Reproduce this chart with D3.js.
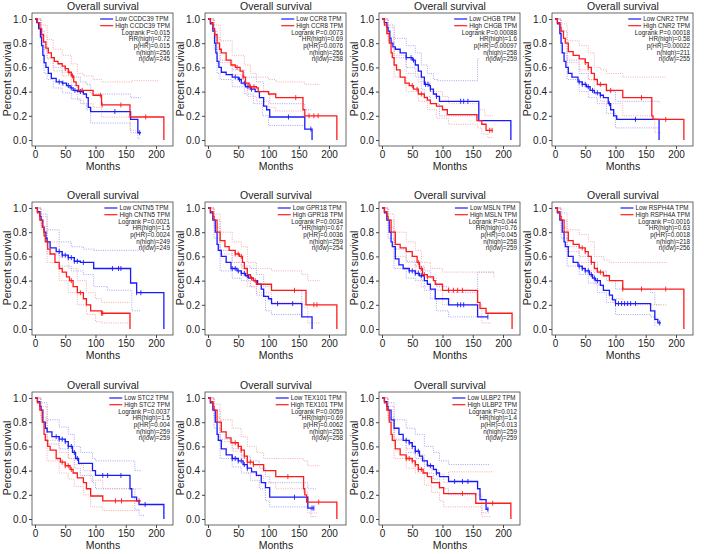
<!DOCTYPE html>
<html><head><meta charset="utf-8">
<script src="https://cdn.jsdelivr.net/npm/d3@7"></script>
<style>body{margin:0;background:#fff}svg{display:block}text{font-family:"Liberation Sans",Arial,sans-serif;fill:#222}</style>
</head><body><svg id="c" width="708" height="554"></svg>
<script>
// ---------- labels ----------
const genes = ["CCDC39","CCR8","CHGB","CNR2","CNTN5","GPR18","MSLN","RSPH4A","STC2","TEX101","ULBP2"];
const logrankP = ["0.015","0.0073","0.00088","0.00018","0.0021","0.0034","0.044","0.0016","0.0037","0.0059","0.012"];
const hrHigh = ["0.72","0.69","1.6","0.58","1.5","0.67","0.76","0.63","1.5","0.69","1.4"];
const pHR = ["0.015","0.0076","0.00097","0.00022","0.0024","0.0036","0.045","0.0018","0.004","0.0062","0.013"];
const nHigh = [256,256,258,211,249,259,258,218,259,255,259];
const nLow = [245,258,259,255,249,254,259,256,259,258,259];
const xTicks = [0,50,100,150,200];
const yTicks = [0,0.2,0.4,0.6,0.8,1.0];

// ---------- survival curves: [month, survival] steps ----------
const ccdc39Low=[[0,1],[3,.97],[6,.92],[9,.85],[11,.78],[13,.7],[15,.64],[18,.6],[22,.55],[27,.51],[35,.48],[45,.47],[52,.45],[58,.43],[63,.41],[70,.4],[80,.38],[85,.35],[88,.27],[92,.235],[158,.17],[170,.06],[175,.06]];
const ccdc39High=[[0,1],[4,.97],[8,.92],[11,.87],[14,.81],[18,.76],[22,.72],[27,.68],[32,.65],[38,.63],[45,.61],[50,.59],[55,.56],[60,.53],[64,.48],[68,.45],[72,.41],[96,.37],[110,.29],[157,.19],[213,0]];
const ccdc39LowUp=[[0,1],[10,.9],[15,.75],[20,.68],[30,.6],[45,.56],[60,.52],[75,.48],[85,.46],[92,.38],[158,.35],[175,.35]];
const ccdc39LowLo=[[0,1],[10,.78],[15,.55],[20,.5],[30,.43],[45,.39],[60,.34],[75,.3],[85,.25],[92,.14],[158,.06],[170,.01],[175,.01]];
const ccdc39HighUp=[[0,1],[10,.95],[20,.83],[30,.75],[45,.7],[60,.63],[70,.55],[80,.53],[96,.5],[110,.48],[160,.49],[205,.49]];
const ccdc39HighLo=[[0,1],[10,.86],[20,.67],[30,.57],[45,.53],[60,.45],[70,.33],[80,.3],[96,.27],[110,.19],[157,.08],[170,.08]];
const ccdc39LowCens=[40,46,55,60,66,75,132,173];
const ccdc39HighCens=[50,56,62,78,108,111,142,183];

const ccr8Low=[[0,1],[4,.96],[8,.9],[11,.8],[13,.72],[15,.65],[18,.6],[22,.56],[30,.54],[40,.52],[50,.5],[55,.47],[62,.44],[70,.42],[78,.4],[85,.35],[92,.28],[97,.25],[102,.19],[160,.09],[172,0]];
const ccr8High=[[0,1],[4,.97],[8,.92],[11,.87],[15,.8],[19,.75],[22,.72],[30,.66],[38,.62],[45,.6],[53,.57],[58,.52],[62,.47],[68,.44],[80,.43],[83,.4],[100,.38],[112,.35],[157,.25],[160,.2],[213,0]];
const ccr8LowUp=[[0,1],[10,.9],[15,.75],[20,.66],[40,.58],[60,.52],[80,.48],[92,.4],[102,.3],[160,.25],[170,.25]];
const ccr8LowLo=[[0,1],[10,.75],[15,.55],[20,.5],[40,.44],[60,.38],[75,.3],[90,.2],[100,.12],[160,.12]];
const ccr8HighUp=[[0,1],[10,.95],[20,.82],[40,.7],[60,.62],[70,.55],[80,.52],[100,.5],[112,.48],[160,.46],[185,.46]];
const ccr8HighLo=[[0,1],[10,.85],[20,.64],[40,.54],[55,.46],[65,.36],[80,.32],[100,.27],[112,.24],[157,.2],[162,.2]];
const ccr8LowCens=[45,52,60,66,72,133,170];
const ccr8HighCens=[48,58,70,76,145,167,175,182];

const chgbLow=[[0,1],[4,.97],[8,.93],[10,.9],[13,.84],[15,.8],[18,.77],[22,.75],[30,.72],[40,.68],[50,.66],[55,.62],[60,.57],[65,.52],[70,.46],[78,.45],[80,.42],[85,.38],[90,.36],[95,.32],[160,.16],[213,0]];
const chgbHigh=[[0,1],[4,.95],[8,.88],[12,.8],[15,.72],[17,.68],[20,.62],[24,.58],[30,.52],[38,.47],[45,.45],[52,.42],[60,.38],[70,.35],[75,.33],[80,.3],[90,.28],[100,.25],[108,.21],[157,.16],[165,.13],[172,.08],[183,.08]];
const chgbLowUp=[[0,1],[10,.95],[20,.84],[40,.78],[55,.72],[65,.62],[75,.55],[85,.5],[92,.49],[158,.67],[160,.67]];
const chgbLowLo=[[0,1],[10,.85],[20,.68],[40,.6],[55,.52],[65,.42],[70,.36],[80,.3],[95,.2],[160,.2]];
const chgbHighUp=[[0,1],[10,.93],[20,.7],[40,.55],[60,.48],[80,.4],[100,.36],[110,.3],[160,.25],[170,.2],[183,.2]];
const chgbHighLo=[[0,1],[10,.82],[20,.52],[40,.4],[60,.32],[75,.25],[90,.18],[110,.13],[158,.1],[165,.05],[175,.02],[183,.02]];
const chgbLowCens=[40,48,52,72,76,80,90,130,135,142];
const chgbHighCens=[50,58,65,178,182];

const cnr2Low=[[0,1],[4,.96],[8,.88],[10,.8],[12,.72],[15,.65],[18,.6],[22,.55],[28,.52],[38,.48],[45,.46],[52,.44],[58,.41],[65,.39],[75,.37],[80,.35],[88,.3],[92,.25],[97,.2],[102,.17],[172,0]];
const cnr2High=[[0,1],[4,.97],[8,.93],[10,.9],[14,.84],[17,.8],[22,.73],[30,.7],[40,.67],[50,.64],[55,.6],[60,.55],[65,.5],[70,.46],[85,.41],[112,.35],[160,.2],[162,.17],[213,0]];
const cnr2LowUp=[[0,1],[10,.9],[20,.66],[40,.55],[55,.5],[70,.45],[85,.4],[100,.32],[172,.3]];
const cnr2LowLo=[[0,1],[10,.72],[20,.5],[40,.4],[55,.35],[70,.3],[85,.22],[100,.1],[172,.1]];
const cnr2HighUp=[[0,1],[10,.96],[20,.82],[40,.78],[55,.72],[65,.6],[75,.58],[85,.55],[112,.52],[185,.52]];
const cnr2HighLo=[[0,1],[10,.84],[20,.64],[40,.58],[55,.5],[65,.38],[75,.32],[85,.3],[112,.2],[160,.18],[165,.06],[175,.06]];
const cnr2LowCens=[40,45,50,55,62,70,75,90,133];
const cnr2HighCens=[50,55,75,92,143,183];

const cntn5Low=[[0,1],[4,.97],[8,.93],[10,.9],[13,.84],[15,.8],[18,.75],[20,.72],[25,.67],[35,.64],[45,.61],[55,.59],[65,.56],[75,.55],[97,.5],[158,.38],[168,.3],[213,0]];
const cntn5High=[[0,1],[4,.96],[8,.9],[12,.84],[15,.77],[17,.72],[21,.66],[25,.62],[33,.55],[40,.5],[45,.47],[52,.43],[57,.4],[63,.35],[70,.3],[80,.25],[85,.2],[92,.15],[110,.13],[157,0]];
const cntn5LowUp=[[0,1],[10,.95],[20,.82],[40,.72],[60,.68],[80,.66],[97,.65],[175,.65]];
const cntn5LowLo=[[0,1],[10,.85],[20,.62],[40,.52],[60,.48],[80,.45],[97,.35],[120,.32],[160,.15],[175,.15]];
const cntn5HighUp=[[0,1],[10,.93],[20,.72],[40,.6],[55,.5],[70,.4],[85,.3],[100,.25],[110,.22],[157,.22]];
const cntn5HighLo=[[0,1],[10,.82],[20,.55],[40,.4],[55,.3],[70,.2],[85,.12],[100,.06],[110,.05],[157,.05]];
const cntn5LowCens=[40,45,50,55,60,65,70,80,128,138,142,168,175];
const cntn5HighCens=[60,75,110,112];

const gpr18Low=[[0,1],[4,.96],[8,.9],[12,.8],[15,.7],[17,.65],[22,.6],[30,.55],[38,.5],[48,.48],[55,.46],[62,.44],[67,.42],[75,.4],[82,.37],[88,.33],[92,.27],[100,.25],[105,.21],[155,.1],[172,0]];
const gpr18High=[[0,1],[4,.97],[8,.93],[10,.9],[15,.8],[20,.73],[28,.68],[35,.65],[45,.62],[52,.6],[57,.55],[60,.5],[65,.45],[70,.42],[75,.4],[80,.37],[105,.32],[162,.2],[213,0]];
const gpr18LowUp=[[0,1],[10,.9],[20,.65],[40,.55],[55,.52],[70,.5],[80,.45],[92,.35],[105,.32],[155,.2],[170,.2]];
const gpr18LowLo=[[0,1],[10,.75],[20,.48],[40,.42],[55,.4],[70,.35],[80,.28],[95,.15],[105,.12],[155,.1]];
const gpr18HighUp=[[0,1],[10,.95],[20,.8],[40,.72],[55,.68],[65,.55],[80,.5],[105,.48],[155,.45],[165,.4],[185,.4]];
const gpr18HighLo=[[0,1],[10,.84],[20,.62],[40,.55],[55,.5],[65,.35],[80,.3],[105,.22],[155,.18],[165,.05],[185,.05]];
const gpr18LowCens=[40,45,50,55,60,65,115,140];
const gpr18HighCens=[45,50,55,72,78,143,175,180];

const mslnLow=[[0,1],[4,.96],[8,.9],[12,.8],[15,.72],[17,.68],[22,.58],[28,.53],[35,.5],[45,.48],[55,.46],[62,.44],[70,.4],[75,.37],[80,.33],[88,.25],[110,.2],[158,.1],[175,.1]];
const mslnHigh=[[0,1],[4,.97],[8,.93],[10,.9],[15,.8],[22,.7],[30,.67],[40,.64],[50,.6],[58,.55],[62,.5],[67,.45],[75,.43],[85,.4],[88,.37],[100,.32],[158,.22],[162,.17],[172,.13],[215,0]];
const mslnLowUp=[[0,1],[10,.9],[20,.66],[40,.56],[55,.52],[70,.48],[80,.42],[90,.35],[110,.3],[158,.47],[185,.47]];
const mslnLowLo=[[0,1],[10,.75],[20,.5],[40,.42],[55,.4],[70,.32],[80,.25],[90,.15],[110,.1],[158,.1]];
const mslnHighUp=[[0,1],[10,.95],[20,.8],[40,.72],[55,.65],[65,.55],[80,.5],[100,.47],[170,.47],[185,.42]];
const mslnHighLo=[[0,1],[10,.84],[20,.6],[40,.55],[55,.48],[65,.35],[80,.32],[100,.2],[158,.2],[165,.05],[180,.05]];
const mslnLowCens=[45,50,55,60,65,125,130,135,175];
const mslnHighCens=[60,65,70,75,110,118,125,133];

const rsph4aLow=[[0,1],[4,.96],[8,.9],[12,.8],[15,.72],[17,.68],[22,.6],[30,.55],[38,.52],[45,.5],[50,.48],[57,.45],[62,.42],[67,.4],[75,.36],[80,.32],[90,.28],[95,.24],[100,.21],[158,.15],[165,.08],[170,.05],[175,.05]];
const rsph4aHigh=[[0,1],[4,.97],[8,.93],[10,.9],[15,.8],[22,.73],[30,.7],[40,.67],[50,.64],[55,.6],[60,.55],[65,.5],[70,.47],[80,.44],[90,.4],[112,.33],[213,0]];
const rsph4aLowUp=[[0,1],[10,.9],[20,.68],[40,.6],[55,.55],[70,.48],[85,.4],[100,.33],[158,.3],[165,.2],[175,.2]];
const rsph4aLowLo=[[0,1],[10,.75],[20,.52],[40,.45],[55,.38],[70,.3],[85,.22],[100,.12],[158,.1],[165,.02]];
const rsph4aHighUp=[[0,1],[10,.96],[20,.82],[40,.78],[55,.72],[65,.6],[80,.57],[90,.55],[112,.55],[185,.55]];
const rsph4aHighLo=[[0,1],[10,.84],[20,.64],[40,.55],[55,.48],[65,.37],[80,.32],[90,.25],[112,.2],[185,.2]];
const rsph4aLowCens=[40,45,50,55,60,65,70,100,105,110,115,120,125,133,173];
const rsph4aHighCens=[45,50,60,75,112,143,183];

const stc2Low=[[0,1],[4,.97],[8,.93],[10,.9],[13,.8],[17,.75],[20,.72],[28,.68],[40,.66],[50,.64],[55,.6],[62,.55],[67,.5],[72,.46],[95,.4],[100,.36],[157,.25],[160,.18],[168,.15],[172,.12],[213,0]];
const stc2High=[[0,1],[4,.96],[8,.9],[12,.8],[15,.7],[17,.65],[21,.6],[25,.57],[35,.5],[42,.47],[50,.44],[58,.41],[63,.38],[70,.34],[80,.3],[85,.25],[92,.19],[112,.15],[175,.15]];
const stc2LowUp=[[0,1],[10,.96],[20,.82],[40,.76],[55,.7],[65,.6],[75,.55],[95,.5],[100,.48],[157,.48],[165,.4],[175,.4]];
const stc2LowLo=[[0,1],[10,.84],[20,.62],[40,.58],[55,.5],[65,.42],[75,.36],[95,.3],[100,.25],[157,.25],[165,.08],[172,.03],[182,.03]];
const stc2HighUp=[[0,1],[10,.93],[20,.65],[40,.55],[55,.5],[65,.45],[80,.4],[92,.32],[112,.25],[175,.24]];
const stc2HighLo=[[0,1],[10,.82],[20,.48],[40,.38],[55,.33],[65,.27],[80,.2],[92,.1],[112,.07],[175,.07]];
const stc2LowCens=[35,40,45,50,55,60,65,70,112,120,142,182];
const stc2HighCens=[45,50,55,60,133,143,172];

const tex101Low=[[0,1],[4,.96],[8,.9],[12,.8],[15,.7],[17,.65],[22,.58],[30,.53],[40,.5],[50,.48],[58,.45],[65,.42],[72,.39],[80,.36],[88,.3],[95,.26],[102,.18],[165,.09],[175,.09]];
const tex101High=[[0,1],[4,.97],[8,.93],[10,.9],[15,.8],[22,.72],[30,.67],[38,.63],[50,.6],[55,.57],[60,.52],[65,.47],[75,.45],[92,.4],[112,.35],[158,.25],[160,.2],[163,.14],[213,0]];
const tex101LowUp=[[0,1],[10,.9],[20,.66],[40,.58],[55,.52],[70,.48],[85,.42],[95,.35],[102,.3],[165,.25],[178,.25]];
const tex101LowLo=[[0,1],[10,.75],[20,.5],[40,.43],[55,.38],[70,.32],[85,.25],[95,.15],[102,.1],[165,.1],[170,.02],[178,.02]];
const tex101HighUp=[[0,1],[10,.95],[20,.82],[40,.75],[55,.68],[65,.6],[80,.55],[92,.5],[158,.48],[165,.44],[185,.44]];
const tex101HighLo=[[0,1],[10,.84],[20,.64],[40,.56],[55,.5],[65,.38],[80,.35],[92,.3],[112,.25],[158,.22],[165,.05],[180,.05]];
const tex101LowCens=[40,45,50,55,60,65,143,172,175];
const tex101HighCens=[45,50,55,60,65,70,75,132,183];

const ulbp2Low=[[0,1],[4,.97],[8,.93],[10,.9],[15,.82],[20,.75],[28,.7],[35,.65],[45,.63],[50,.6],[55,.56],[62,.52],[67,.48],[75,.44],[85,.41],[90,.38],[95,.35],[110,.31],[158,.25],[162,.16],[172,.08],[176,.08]];
const ulbp2High=[[0,1],[4,.96],[8,.9],[12,.8],[15,.7],[17,.65],[22,.58],[30,.53],[40,.5],[50,.48],[55,.45],[60,.41],[68,.38],[75,.35],[82,.3],[95,.26],[102,.21],[155,.13],[213,0]];
const ulbp2LowUp=[[0,1],[10,.96],[20,.82],[40,.75],[55,.7],[70,.6],[85,.55],[95,.48],[110,.45],[178,.45]];
const ulbp2LowLo=[[0,1],[10,.84],[20,.66],[40,.55],[55,.5],[70,.38],[85,.33],[95,.25],[110,.2],[158,.2],[165,.05],[178,.05]];
const ulbp2HighUp=[[0,1],[10,.93],[20,.65],[40,.58],[55,.53],[70,.45],[82,.4],[95,.37],[102,.3],[110,.39],[185,.39]];
const ulbp2HighLo=[[0,1],[10,.82],[20,.5],[40,.42],[55,.38],[70,.28],[82,.22],[95,.15],[102,.1],[155,.1],[165,.02],[180,.02]];
const ulbp2LowCens=[40,45,50,55,60,80,90,120,133,142,175];
const ulbp2HighCens=[40,45,50,55,60,65,133,183];

// ---------- assemble ----------
const curves = [
 [ccdc39Low,ccdc39High,ccdc39LowUp,ccdc39LowLo,ccdc39HighUp,ccdc39HighLo,ccdc39LowCens,ccdc39HighCens],
 [ccr8Low,ccr8High,ccr8LowUp,ccr8LowLo,ccr8HighUp,ccr8HighLo,ccr8LowCens,ccr8HighCens],
 [chgbLow,chgbHigh,chgbLowUp,chgbLowLo,chgbHighUp,chgbHighLo,chgbLowCens,chgbHighCens],
 [cnr2Low,cnr2High,cnr2LowUp,cnr2LowLo,cnr2HighUp,cnr2HighLo,cnr2LowCens,cnr2HighCens],
 [cntn5Low,cntn5High,cntn5LowUp,cntn5LowLo,cntn5HighUp,cntn5HighLo,cntn5LowCens,cntn5HighCens],
 [gpr18Low,gpr18High,gpr18LowUp,gpr18LowLo,gpr18HighUp,gpr18HighLo,gpr18LowCens,gpr18HighCens],
 [mslnLow,mslnHigh,mslnLowUp,mslnLowLo,mslnHighUp,mslnHighLo,mslnLowCens,mslnHighCens],
 [rsph4aLow,rsph4aHigh,rsph4aLowUp,rsph4aLowLo,rsph4aHighUp,rsph4aHighLo,rsph4aLowCens,rsph4aHighCens],
 [stc2Low,stc2High,stc2LowUp,stc2LowLo,stc2HighUp,stc2HighLo,stc2LowCens,stc2HighCens],
 [tex101Low,tex101High,tex101LowUp,tex101LowLo,tex101HighUp,tex101HighLo,tex101LowCens,tex101HighCens],
 [ulbp2Low,ulbp2High,ulbp2LowUp,ulbp2LowLo,ulbp2HighUp,ulbp2HighLo,ulbp2LowCens,ulbp2HighCens]
];

// ---------- layout ----------
const colX = [35,208,382,555];
const rowY = [19,208,398];
const BLUE="#1a1aff", RED="#ff1a1a", LBLUE="#9b9bf2", LRED="#f5a3a3";

const svg = d3.select("#c");
function stepAt(arr,t){let s=arr[0][1];for(const p of arr){if(p[0]<=t)s=p[1];}return s;}

genes.forEach((g,i)=>{
  const x0 = colX[i%4], yT = rowY[Math.floor(i/4)];
  const x = d3.scaleLinear().domain([0,200]).range([x0,x0+121]);
  const y = d3.scaleLinear().domain([0,1]).range([yT+121,yT]);
  const fl = x0-3, fr = x0+138, ft = yT-6, fb = yT+127;
  const gp = svg.append("g");
  const [low,high,lowUp,lowLo,highUp,highLo,lowC,highC] = curves[i];
  const line = d3.line().x(d=>x(d[0])).y(d=>y(d[1])).curve(d3.curveStepAfter);

  // confidence bands
  [[lowUp,LBLUE],[lowLo,LBLUE],[highUp,LRED],[highLo,LRED]].forEach(([d,c])=>{
    gp.append("path").attr("d",line(d)).attr("fill","none").attr("stroke",c)
      .attr("stroke-width",0.9).attr("stroke-dasharray","1,1.3");
  });
  // main curves
  [[low,BLUE,lowC],[high,RED,highC]].forEach(([d,c,cens])=>{
    gp.append("path").attr("d",line(d)).attr("fill","none").attr("stroke",c).attr("stroke-width",1.3);
    cens.forEach(t=>{
      const yy=y(stepAt(d,t));
      gp.append("line").attr("x1",x(t)).attr("x2",x(t)).attr("y1",yy-2.5).attr("y2",yy+2.5)
        .attr("stroke",c).attr("stroke-width",0.9);
    });
  });

  // frame
  gp.append("rect").attr("x",fl).attr("y",ft).attr("width",fr-fl).attr("height",fb-ft)
    .attr("fill","none").attr("stroke","#444").attr("stroke-width",0.8);
  // axes
  const ax = gp.append("g").attr("transform",`translate(${fl},0)`)
    .call(d3.axisLeft(y).tickValues(yTicks).tickFormat(d3.format(".1f")).tickSize(3).tickPadding(2));
  const bx = gp.append("g").attr("transform",`translate(0,${fb})`)
    .call(d3.axisBottom(x).tickValues(xTicks).tickSize(3).tickPadding(2));
  [ax,bx].forEach(a=>{a.select(".domain").remove();a.selectAll("line").attr("stroke","#444");
    a.selectAll("text").attr("font-size",10).attr("font-family","Liberation Sans, Arial").attr("fill","#222");});

  // titles
  gp.append("text").attr("x",x0+68).attr("y",yT-9).attr("text-anchor","middle").attr("font-size",10.5).text("Overall survival");
  gp.append("text").attr("transform",`translate(${x0-24},${yT+60}) rotate(-90)`).attr("text-anchor","middle").attr("font-size",10.5).text("Percent survival");
  gp.append("text").attr("x",x0+68).attr("y",yT+151).attr("text-anchor","middle").attr("font-size",10.5).text("Months");

  // legend
  const rx = fr-3, fs = 6.3, dy = 6.7;
  const lg = gp.append("g");
  const t1 = lg.append("text").attr("font-size",fs).text(`Low ${g} TPM`);
  const t2 = lg.append("text").attr("font-size",fs).text(`High ${g} TPM`);
  const w = Math.max(t1.node().getComputedTextLength(), t2.node().getComputedTextLength());
  const tx = rx - w;
  t1.attr("x",tx).attr("y",yT+2.2);
  t2.attr("x",tx).attr("y",yT+dy+2.2);
  lg.append("line").attr("x1",tx-15).attr("x2",tx-2).attr("y1",yT).attr("y2",yT).attr("stroke",BLUE).attr("stroke-width",1.2);
  lg.append("line").attr("x1",tx-15).attr("x2",tx-2).attr("y1",yT+dy).attr("y2",yT+dy).attr("stroke",RED).attr("stroke-width",1.2);
  const stats = [`Logrank P=${logrankP[i]}`,`HR(high)=${hrHigh[i]}`,`p(HR)=${pHR[i]}`,`n(high)=${nHigh[i]}`,`n(low)=${nLow[i]}`];
  stats.forEach((s,k)=>{
    lg.append("text").attr("x",rx).attr("y",yT+dy*(k+2)+2.2).attr("text-anchor","end").attr("font-size",fs).text(s);
  });
});
</script></body></html>
